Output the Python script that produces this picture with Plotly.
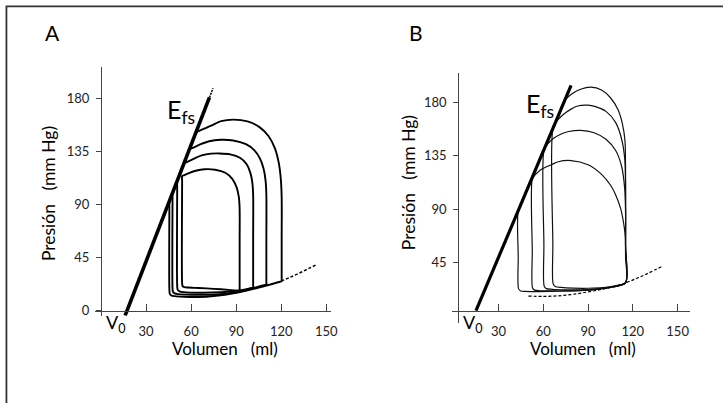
import plotly.graph_objects as go

W, H = 723, 403
FONT = "Lato, Noto Sans, sans-serif"

# ---- datos ----
x_ticks = [30, 60, 90, 120, 150]
y_ticks_a = [0, 45, 90, 135, 180]
y_ticks_b = [45, 90, 135, 180]

# recta de elastancia telesistólica (Efs)
efs_a_v = [16, 72.2]
efs_a_p = [-4.2, 180.6]
efs_a_tip_v = [72.2, 74.6]
efs_a_tip_p = [180.6, 188.5]
efs_b_v = [14.9, 78.6]
efs_b_p = [4.4, 194.5]

# relación presión-volumen diastólica (tramo punteado)
edpvr_a_v = [120, 126, 132, 138, 143.5]
edpvr_a_p = [25, 28.3, 31.8, 35.5, 39]
edpvr_b_v = [50, 60, 70, 80, 90, 100, 108, 115, 122, 130, 140]
edpvr_b_p = [16.7, 16.4, 16.9, 18.2, 20.2, 22.6, 25, 27.8, 31.3, 35.8, 42]

# bucles panel A
loops_a_v = [
    [45.5, 45.5, 45.5, 45.8, 47, 49, 55, 65, 75, 90, 105, 118.5, 120.3, 120.3, 120.3, 120.3, 119.7, 118.4,
     115.8, 111.5, 105.5, 97.5, 88, 80, 73.4, 67.5, 64.5, 63.2, 62.3, 54, 46.4, 45.5],
    [47.6, 47.6, 47.6, 47.9, 49, 51.5, 60, 75, 90, 100, 108.5, 110.1, 110.1, 110.1, 110.1, 109.6, 108.3,
     105.8, 102, 96.5, 88, 79.6, 72, 66, 61, 58.8, 57.8, 50, 48.4, 47.6],
    [50.7, 50.7, 50.7, 51, 52.3, 55, 65, 80, 92, 100, 101.3, 101.3, 101.3, 101.3, 100.8, 99.5, 97, 92.5,
     86, 79, 73.3, 67, 62, 57, 55.2, 54.2, 51.5, 50.7],
    [54, 54, 54, 54.3, 55.5, 58, 65, 75, 85, 91, 92.3, 92.3, 92.3, 92.3, 91.8, 90.3, 87.5, 82.8, 76, 68.9,
     63, 58.5, 55.5, 54],
]
loops_a_p = [
    [93, 88, 18, 14.2, 12.8, 12.3, 11.8, 11.6, 12.4, 15.2, 19.6, 24.3, 25, 27, 60, 96, 112, 125,
     137.5, 148, 155.5, 160.3, 161.8, 160.5, 156.7, 153.5, 151.8, 151, 148, 120.7, 95.7, 93],
    [99.7, 95, 19, 16, 14.6, 14, 13.5, 13.6, 15.6, 18.6, 21.7, 22, 24, 60, 98, 110, 120,
     129, 136, 141, 144.2, 144.8, 143.5, 140.8, 137.8, 136.5, 133.2, 107.6, 102.3, 99.7],
    [109.9, 105, 21, 17.8, 16.4, 15.7, 15.2, 15.6, 17.2, 19.2, 19.5, 21.5, 60, 98, 108, 116.5, 124, 129.5,
     132.4, 133.2, 133, 131.5, 128.8, 125.8, 124.7, 121.4, 112.5, 109.9],
    [114, 110, 23, 20.8, 19.9, 19.6, 19.2, 18.5, 17.6, 16.9, 16.8, 19, 60, 86, 96, 104.5, 111.5, 116.8,
     119.4, 119.8, 118.5, 116.6, 114.8, 114],
]

# bucles panel B
loops_b_v = [
    [66.4, 66.4, 66.6, 68, 72, 80, 90, 100, 108, 115.1, 115.1, 115.1, 114.7, 113, 110, 105, 99, 92, 85,
     79.5, 74.2, 70, 66.4],
    [60.4, 60.4, 60.6, 62, 66, 75, 85, 95, 105, 115.1, 115.1, 115.1, 114.6, 112.5, 108.5, 102, 95, 89.7,
     83, 78.6, 73, 67.8, 64, 60.4],
    [52.6, 52.6, 52.8, 54.2, 58, 66, 75, 85, 95, 105, 115.1, 115.1, 115.1, 114.5, 112.5, 108.5, 102, 94,
     85, 77, 72, 66, 60, 56, 52.6],
    [43.2, 43.2, 43.4, 44.8, 48, 55, 65, 75, 85, 95, 105, 115.1, 115.1, 115, 114.2, 111.8, 108.5, 105.2,
     98.5, 90, 78.6, 70, 65.4, 58, 51.5, 47, 43.2],
]
loops_b_p = [
    [158, 60, 27, 24.8, 24, 23.4, 23.3, 23.8, 25.4, 27.8, 60, 126, 148, 162, 174, 184, 190.5, 193, 191.2,
     187.5, 181.5, 169, 158],
    [140, 60, 25, 23, 22.4, 22, 22, 22.6, 24.5, 27.8, 60, 110, 132, 149, 163, 172.5, 176.5, 177.7, 177,
     174.4, 169.5, 162.4, 151, 140],
    [117, 55, 23.5, 21.7, 21.2, 21, 21, 21.3, 22.2, 24, 27.8, 55, 88, 108, 126, 139.5, 149, 154.5, 156.5,
     155.5, 153.4, 149, 140, 128, 117],
    [89, 50, 23, 21, 20.7, 20.5, 20.6, 21, 21.5, 22.4, 24, 27.8, 50, 65, 75, 90.6, 102, 110, 120, 127.5,
     131, 130, 127.5, 123, 114, 101, 89],
]

# ---- geometría (píxeles de la imagen) ----
A_X_PX, A_Y_PX = (96, 334), (68, 318)
B_X_PX, B_Y_PX = (456.7, 696.3), (73.4, 325.4)
A_XRANGE, A_YRANGE = [-4, 153], [-4.2, 206]
B_XRANGE, B_YRANGE = [-1, 158], [-6, 205]


def px(x):
    return x / W


def py(y):
    return 1 - y / H


def pos(val, rng, dom):
    return dom[0] + (val - rng[0]) / (rng[1] - rng[0]) * (dom[1] - dom[0])


fig = go.Figure()

for i in range(4):
    fig.add_trace(go.Scatter(x=loops_a_v[i], y=loops_a_p[i], mode="lines",
                             line=dict(color="black", width=1.9, shape="spline", smoothing=0.8),
                             xaxis="x", yaxis="y", showlegend=False, hoverinfo="skip"))
fig.add_trace(go.Scatter(x=edpvr_a_v, y=edpvr_a_p, mode="lines",
                         line=dict(color="black", width=1.5, dash="3px,2px", shape="spline"),
                         xaxis="x", yaxis="y", showlegend=False))
fig.add_trace(go.Scatter(x=efs_a_v, y=efs_a_p, mode="lines", line=dict(color="black", width=3.6),
                         xaxis="x", yaxis="y", showlegend=False))
fig.add_trace(go.Scatter(x=efs_a_tip_v, y=efs_a_tip_p, mode="lines",
                         line=dict(color="black", width=1.5, dash="2px,1px"),
                         xaxis="x", yaxis="y", showlegend=False))

for i in range(4):
    fig.add_trace(go.Scatter(x=loops_b_v[i], y=loops_b_p[i], mode="lines",
                             line=dict(color="#111", width=1.2, shape="spline", smoothing=0.8),
                             xaxis="x2", yaxis="y2", showlegend=False, hoverinfo="skip"))
fig.add_trace(go.Scatter(x=edpvr_b_v, y=edpvr_b_p, mode="lines",
                         line=dict(color="black", width=1.2, dash="3px,2px", shape="spline"),
                         xaxis="x2", yaxis="y2", showlegend=False))
fig.add_trace(go.Scatter(x=efs_b_v, y=efs_b_p, mode="lines", line=dict(color="black", width=3.2),
                         xaxis="x2", yaxis="y2", showlegend=False))

a_xdom = [px(A_X_PX[0]), px(A_X_PX[1])]
a_ydom = [py(A_Y_PX[1]), py(A_Y_PX[0])]
b_xdom = [px(B_X_PX[0]), px(B_X_PX[1])]
b_ydom = [py(B_Y_PX[1]), py(B_Y_PX[0])]

tickfont = dict(family=FONT, size=13, color="#222")
xcommon = dict(tickmode="array", tickvals=x_ticks, ticks="inside", ticklen=7, tickwidth=1.2,
               tickcolor="#444", showline=True, linecolor="#444", linewidth=1.2,
               showgrid=False, zeroline=False, tickfont=tickfont, ticklabelstandoff=9,
               anchor="free")
ycommon = dict(tickmode="array", ticks="outside", ticklen=5, tickwidth=1.2,
               tickcolor="#444", showline=True, linecolor="#444", linewidth=1.2,
               showgrid=False, zeroline=False, tickfont=tickfont, ticklabelstandoff=4,
               anchor="free")

fig.update_layout(
    width=W, height=H,
    margin=dict(l=0, r=0, t=0, b=0),
    paper_bgcolor="white", plot_bgcolor="rgba(0,0,0,0)",
    xaxis=dict(xcommon, domain=a_xdom, range=A_XRANGE, position=pos(0, A_YRANGE, a_ydom)),
    yaxis=dict(ycommon, domain=a_ydom, range=A_YRANGE, tickvals=y_ticks_a,
               position=pos(0, A_XRANGE, a_xdom)),
    xaxis2=dict(xcommon, domain=b_xdom, range=B_XRANGE, position=pos(4.4, B_YRANGE, b_ydom)),
    yaxis2=dict(ycommon, domain=b_ydom, range=B_YRANGE, tickvals=y_ticks_b,
                position=pos(3, B_XRANGE, b_xdom)),
)

NB = "\u00a0"
labels = [
    ("A", 53, 33, 21, 0),
    ("B", 420, 33, 21, 0),
    ("Volumen" + NB * 3 + "(ml)", 227.5, 351, 17, 0),
    ("Volumen" + NB * 3 + "(ml)", 588.3, 351, 17, 0),
    ("Presión" + NB * 3 + "(mm Hg)", 49, 195, 17.5, -90),
    ("Presión" + NB * 3 + "(mm Hg)", 412.5, 184, 17.5, -90),
    ("V<sub>0</sub>", 117.5, 326, 18, 0),
    ("V<sub>0</sub>", 477.5, 326, 18, 0),
    ("E<sub>fs</sub>", 182.5, 112, 25, 0),
    ("E<sub>fs</sub>", 545, 106, 25, 0),
]
for txt, x, y, size, ang in labels:
    fig.add_annotation(text=txt, x=px(x), y=py(y), xref="paper", yref="paper",
                       xanchor="center", yanchor="middle", showarrow=False, textangle=ang,
                       font=dict(family=FONT, size=size, color="black"))

# marco recortado de la figura original (solo se ven los bordes izquierdo y superior)
fig.add_shape(type="rect", xref="paper", yref="paper", x0=px(6.5), x1=1.05, y0=-0.05, y1=py(6.5),
              line=dict(color="#333", width=1.8), fillcolor="rgba(0,0,0,0)")

# el navegador añade 8 px de margen al body; se quita para que coincidan los píxeles
fig.write_html("out.html", config={"displayModeBar": False},
               post_script="document.body.style.margin='0px';")
